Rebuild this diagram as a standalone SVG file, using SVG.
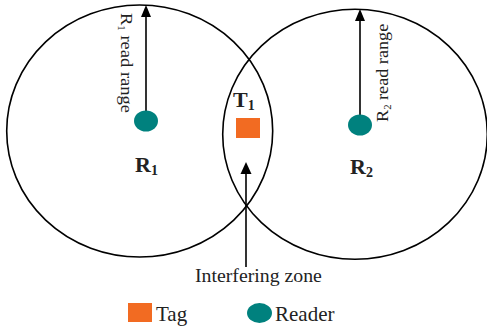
<svg xmlns="http://www.w3.org/2000/svg" width="487" height="329" viewBox="0 0 487 329">
<style>
.zone{fill:none;stroke:#000;stroke-width:1.6}
.reader{fill:#00817E}
.tag{fill:#F26B22}
.t{font-family:"Liberation Serif","Times New Roman",serif;fill:#222}
.b{font-weight:bold}
.line{stroke:#000;stroke-width:1.6;fill:none}
.head{fill:#000}
</style>
<rect width="487" height="329" fill="#fff"/>
<g id="zone-r1"><ellipse class="zone" cx="139.7" cy="131" rx="133" ry="126"/></g>
<g id="zone-r2"><ellipse class="zone" cx="355" cy="134.3" rx="132.3" ry="125"/></g>
<g id="connectors">
<path class="line" d="M146,111 V17"/>
<path class="head" d="M141,17 L146,5 L151,17 Z"/>
<path class="line" d="M360,115 V21"/>
<path class="head" d="M355,21 L360,9 L365,21 Z"/>
<path class="line" d="M246,267 V173"/>
<path class="head" d="M240.5,174 L246,162 L251.5,174 Z"/>
</g>
<g id="reader-r1">
<ellipse class="reader" cx="146" cy="121" rx="12" ry="10.5"/>
<text class="t" transform="translate(121,13) rotate(90) scale(1.09,1)" font-size="17">R<tspan font-size="10" dy="3">1</tspan><tspan dy="-3"> read range</tspan></text>
<text class="t b" x="135" y="172" font-size="22">R<tspan font-size="14" dy="3">1</tspan></text>
</g>
<g id="reader-r2">
<ellipse class="reader" cx="360" cy="125" rx="12" ry="10.5"/>
<text class="t" transform="translate(388,122) rotate(-90) scale(1.07,1)" font-size="17">R<tspan font-size="10" dy="3">2</tspan><tspan dy="-3"> read range</tspan></text>
<text class="t b" x="350" y="174" font-size="22">R<tspan font-size="14" dy="3">2</tspan></text>
</g>
<g id="tag-t1">
<rect class="tag" x="236" y="118" width="24" height="20"/>
<text class="t b" x="233" y="107" font-size="22">T<tspan font-size="14" dy="3">1</tspan></text>
</g>
<g id="interfering-zone">
<text class="t" x="195" y="282" font-size="19.8">Interfering zone</text>
</g>
<g id="legend">
<rect class="tag" x="128" y="303" width="24" height="19"/>
<text class="t" x="156" y="321" font-size="21">Tag</text>
<ellipse class="reader" cx="259.5" cy="313" rx="12.5" ry="10"/>
<text class="t" x="275" y="321" font-size="21">Reader</text>
</g>
</svg>
